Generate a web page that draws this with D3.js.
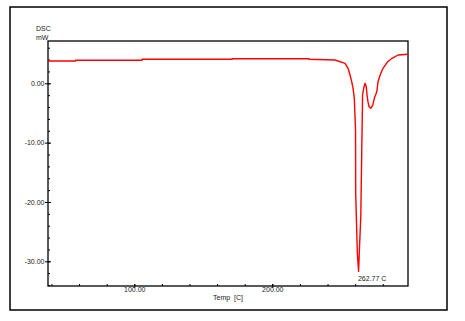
<!DOCTYPE html>
<html>
<head>
<meta charset="utf-8">
<script src="https://cdn.jsdelivr.net/npm/d3@7"></script>
<style>
  body { margin: 0; background: #fff; }
  text { font-family: "Liberation Sans", Arial, sans-serif; fill: #222; }
</style>
</head>
<body>
<svg id="chart" width="465" height="321"></svg>
<script>
// DSC trace
var temps = [37.5, 57.4, 57.5, 105.6, 105.7, 170.8, 170.9, 226.6, 226.7, 245.4, 252.7, 254.9, 256.3, 257.5, 258.5, 259.4, 260.3, 260.4, 261.6, 262.5, 263.0, 264.1, 264.8, 265.2, 265.4, 266.2, 267.2, 268.1, 268.6, 269.3, 270.1, 271.3, 272.8, 273.9, 275.7, 276.6, 278.1, 280.2, 283.6, 286.7, 291.1, 298.3];
var dsc = [3.76, 3.76, 3.88, 3.88, 4.05, 4.05, 4.15, 4.15, 4.05, 3.93, 3.37, 2.53, 1.40, 0.27, -0.84, -2.53, -7.9, -18.5, -28.6, -31.7, -28.6, -22.5, -11.2, -5.35, -1.97, -0.84, 0.0, -0.57, -1.97, -3.1, -3.95, -4.22, -3.66, -2.53, -1.42, 0.27, 1.40, 2.53, 3.64, 4.22, 4.77, 4.89];
var xMajor = [100, 200];
var yMajor = [0, -10, -20, -30];
var peakLabel = "262.77 C";

var svg = d3.select("#chart");
var plotL = 48, plotR = 408, plotT = 41, plotB = 286;

var x = d3.scaleLinear().domain([37.5, 298.3]).range([plotL, plotR]);
var y = d3.scaleLinear().domain([-34.16, 7.13]).range([plotB, plotT]);

// plain hyphen for negatives, like the original software
var fmt = function (d) { return d.toFixed(2); };

// outer frame
svg.append("rect")
  .attr("x", 10).attr("y", 7).attr("width", 437).attr("height", 303)
  .style("fill", "none").style("stroke", "#000").style("stroke-width", 1.5);

// minor ticks, inside
svg.append("g")
  .attr("transform", "translate(" + plotL + ",0)")
  .call(d3.axisRight(y).tickValues(d3.range(-34, 7, 2)).tickSize(2).tickFormat(""))
  .call(function (g) { g.select(".domain").remove(); });
svg.append("g")
  .attr("transform", "translate(0," + plotB + ")")
  .call(d3.axisTop(x).tickValues(d3.range(40, 298, 20)).tickSize(2).tickFormat(""))
  .call(function (g) { g.select(".domain").remove(); });

// major ticks with labels
var yAxis = svg.append("g")
  .attr("transform", "translate(" + (plotL + 3) + ",0)")
  .call(d3.axisLeft(y).tickValues(yMajor).tickSize(6).tickPadding(0).tickFormat(fmt));
yAxis.select(".domain").remove();
yAxis.selectAll("text").style("font-size", "7px").attr("x", -6.5).style("fill", "#222");

var xAxis = svg.append("g")
  .attr("transform", "translate(0," + (plotB - 2) + ")")
  .call(d3.axisBottom(x).tickValues(xMajor).tickSize(4).tickPadding(0).tickFormat(fmt));
xAxis.select(".domain").remove();
xAxis.selectAll("text").style("font-size", "7px").attr("y", 3.5).style("fill", "#222");

svg.selectAll(".tick line").style("stroke", "#000");

// plot frame
svg.append("rect")
  .attr("x", plotL).attr("y", plotT).attr("width", plotR - plotL).attr("height", plotB - plotT)
  .style("fill", "none").style("stroke", "#000").style("stroke-width", 1.3);

// the trace
var line = d3.line()
  .x(function (d, i) { return x(temps[i]); })
  .y(function (d) { return y(d); });

svg.append("path")
  .datum(dsc)
  .attr("d", line)
  .style("fill", "none")
  .style("stroke", "#ff0000")
  .style("stroke-width", 1.4)
  .style("stroke-linejoin", "round");

// texts
svg.append("text").attr("x", 36).attr("y", 31).style("font-size", "7px").text("DSC");
svg.append("text").attr("x", 36).attr("y", 40).style("font-size", "7px").text("mW");
svg.append("text").attr("x", (plotL + plotR) / 2).attr("y", 300).attr("text-anchor", "middle")
  .style("font-size", "7px").style("white-space", "pre").text("Temp  [C]");
svg.append("text").attr("x", x(262.77) - 1).attr("y", 281).style("font-size", "7px").text(peakLabel);
</script>
</body>
</html>
